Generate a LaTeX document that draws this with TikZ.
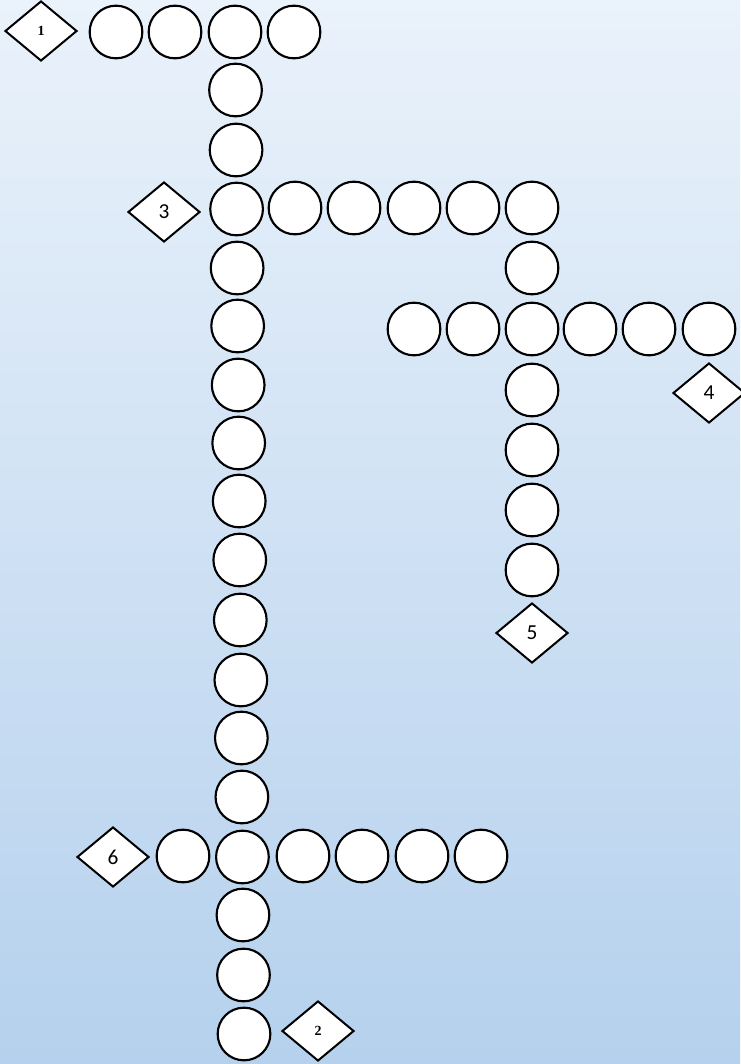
\documentclass[tikz,border=0pt]{standalone}
\usepackage{fontspec}
\setmainfont{Liberation Serif}
\newfontfamily\cluefont{Carlito}
\usetikzlibrary{shapes.geometric}
\definecolor{SkyTop}{HTML}{EAF2FB}
\definecolor{SkyBottom}{HTML}{B5D1ED}
\tikzset{
  cell/.style={circle, draw=black, line width=1.6pt, fill=white, minimum size=39.5pt, inner sep=0pt},
  clue/.style={diamond, draw=black, line width=1.5pt, fill=white, minimum width=54pt, minimum height=45pt, inner sep=0pt},
  cluebf/.style={clue, font=\fontsize{10.5}{12}\selectfont\bfseries},
  cluesf/.style={clue, font=\fontsize{16}{18}\selectfont\cluefont}
}

\begin{document}
\begin{tikzpicture}[x=0.75pt, y=-0.75pt]
  \useasboundingbox (0,0) rectangle (740,1064);
  \fill[top color=SkyTop, bottom color=SkyBottom] (0,0) rectangle (740,1064);
  % word 1 (across, top)
  \foreach \x [count=\i] in {116,175,294}
    \node[cell] (one\i) at (\x,32) {};
  % word 2 (down, long column)
  \foreach \y [count=\i] in {32,90,150,209,268,326,385,443,501,560,620,680,738,797,857,915,975,1034}{
    \pgfmathsetmacro{\x}{235+(\y-32)*0.009}
    \node[cell] (two\i) at (\x,\y) {};
  }
  % word 3 (across)
  \foreach \x [count=\i] in {295,354,414,473,532}
    \node[cell] (three\i) at (\x,208) {};
  % word 5 (down, right column)
  \foreach \y [count=\i] in {268,329,390,450,510,570}
    \node[cell] (five\i) at (532,\y) {};
  % word 4 (across)
  \foreach \x [count=\i] in {414,473,590,649,709}
    \node[cell] (four\i) at (\x,329) {};
  % word 6 (across, bottom)
  \foreach \x [count=\i] in {183,303,362,422,481}
    \node[cell] (six\i) at (\x,856) {};
  % clue markers
  \node[cluebf] (clue1) at (41,31) {1};
  \node[cluebf] (clue2) at (318,1031) {2};
  \node[cluesf] (clue3) at (164,212) {3};
  \node[cluesf] (clue4) at (709,393) {4};
  \node[cluesf] (clue5) at (532,633) {5};
  \node[cluesf] (clue6) at (113,857) {6};
\end{tikzpicture}
\end{document}
